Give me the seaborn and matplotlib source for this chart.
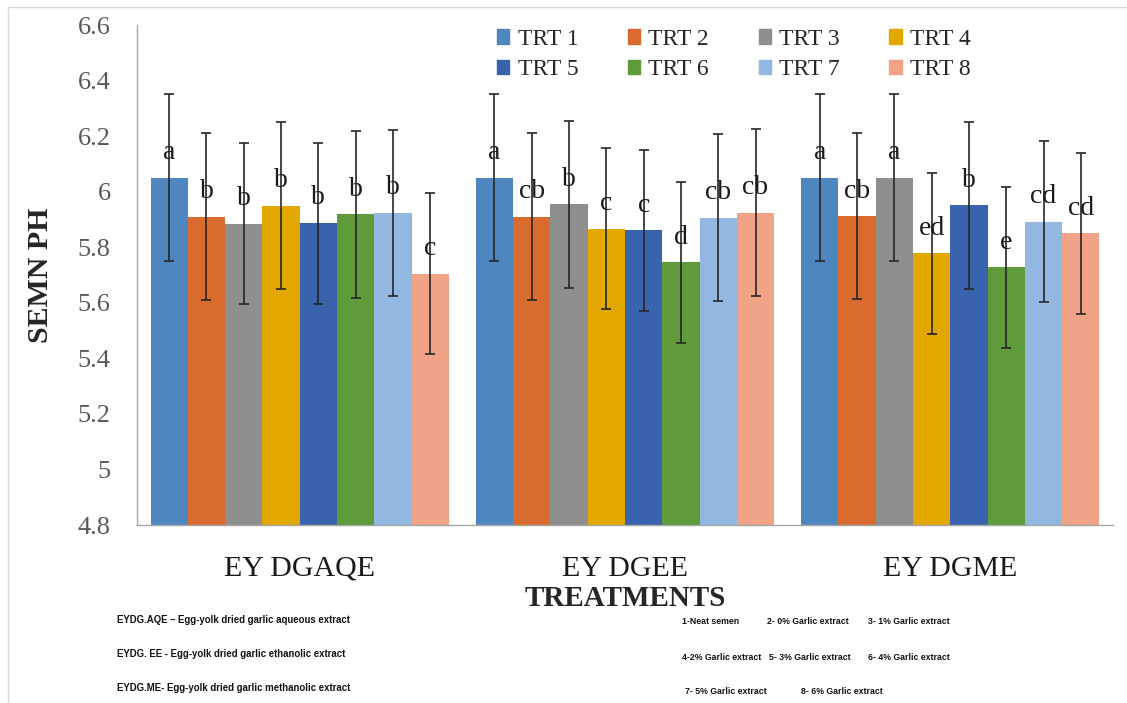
import matplotlib
matplotlib.use("Agg")
import matplotlib.pyplot as plt
from matplotlib.lines import Line2D
import seaborn as sns
import pandas as pd

# ---- data -------------------------------------------------------------
groups = ["EY DGAQE", "EY DGEE", "EY DGME"]
treatments = ["TRT 1", "TRT 2", "TRT 3", "TRT 4", "TRT 5", "TRT 6", "TRT 7", "TRT 8"]

ph_aqe = [6.05, 5.91, 5.885, 5.95, 5.887, 5.918, 5.923, 5.705]
ph_ee = [6.05, 5.91, 5.955, 5.866, 5.861, 5.746, 5.906, 5.924]
ph_me = [6.05, 5.912, 6.05, 5.778, 5.951, 5.728, 5.892, 5.85]

err_aqe = [0.30, 0.30, 0.29, 0.30, 0.29, 0.30, 0.30, 0.29]
err_ee = [0.30, 0.30, 0.30, 0.29, 0.29, 0.29, 0.30, 0.30]
err_me = [0.30, 0.30, 0.30, 0.29, 0.30, 0.29, 0.29, 0.29]

letters_aqe = ["a", "b", "b", "b", "b", "b", "b", "c"]
letters_ee = ["a", "cb", "b", "c", "c", "d", "cb", "cb"]
letters_me = ["a", "cb", "a", "ed", "b", "e", "cd", "cd"]

yticks = [4.8, 5.0, 5.2, 5.4, 5.6, 5.8, 6.0, 6.2, 6.4, 6.6]
ytick_labels = ["4.8", "5", "5.2", "5.4", "5.6", "5.8", "6", "6.2", "6.4", "6.6"]

colors = ["#4E86BF", "#D86B2D", "#8E8E8E", "#E2A800",
          "#3A63AD", "#5F9A3B", "#92B7E0", "#F0A386"]

abbrev_notes = [
    "EYDG.AQE \u2013 Egg-yolk dried garlic aqueous extract",
    "EYDG. EE - Egg-yolk dried garlic ethanolic extract",
    "EYDG.ME- Egg-yolk dried garlic methanolic extract",
]
trt_notes = [
    ("1-Neat semen", 682, 622), ("2- 0% Garlic extract", 767, 622),
    ("3- 1% Garlic extract", 868, 622),
    ("4-2% Garlic extract", 682, 657), ("5- 3% Garlic extract", 769, 657),
    ("6- 4% Garlic extract", 868, 657),
    ("7- 5% Garlic extract", 685, 692), ("8- 6% Garlic extract", 801, 692),
]

# ---- long table ---------------------------------------------------------
values = [ph_aqe, ph_ee, ph_me]
errors = [err_aqe, err_ee, err_me]
letters = [letters_aqe, letters_ee, letters_me]
rows = []
for g, vals in zip(groups, values):
    for t, v in zip(treatments, vals):
        rows.append({"group": g, "trt": t, "ph": v})
df = pd.DataFrame(rows)

# ---- figure ------------------------------------------------------------
sns.set_style("white")
plt.rcParams["font.family"] = ["Liberation Serif", "DejaVu Serif"]

W, H = 1127, 703
fig = plt.figure(figsize=(W / 100, H / 100), dpi=100)
ax = fig.add_axes([137 / W, 1 - 525 / H, (1113 - 137) / W, (525 - 25) / H])

sns.barplot(data=df, x="group", y="ph", hue="trt", order=groups,
            hue_order=treatments, palette=colors, saturation=1,
            width=0.917, gap=0, errorbar=None, ax=ax, linewidth=0)
ax.set_xlim(-0.5, 2.5)

# error bars and significance letters on every bar
bar_containers = list(ax.containers)
for ti, cont in enumerate(bar_containers):
    for gi, bar in enumerate(cont.patches):
        xc = bar.get_x() + bar.get_width() / 2
        v = values[gi][ti]
        ax.errorbar(xc, v, yerr=errors[gi][ti], fmt="none", ecolor="#262626",
                    elinewidth=1.2, capsize=3.8, capthick=1.2, zorder=4)
        ax.text(xc, v + 0.067, letters[gi][ti], ha="center", va="baseline",
                fontsize=20, color="#1a1a1a", zorder=5)

ax.set_ylim(4.8, 6.6)
ax.set_yticks(yticks)
ax.set_yticklabels(ytick_labels)
ax.tick_params(axis="y", length=0, pad=19, labelsize=19, labelcolor="#595959")
ax.tick_params(axis="x", length=0, pad=22, labelsize=21.5, labelcolor="#1a1a1a")

for side in ("top", "right"):
    ax.spines[side].set_visible(False)
for side in ("left", "bottom"):
    ax.spines[side].set_color("#A6A6A6")
    ax.spines[side].set_linewidth(1.0)

ax.set_xlabel("TREATMENTS", fontsize=21, fontweight="bold", va="center")
ax.xaxis.set_label_coords(0.5, (525 - 599) / 500)
ax.set_ylabel("SEMN PH", fontsize=21.5, fontweight="bold", va="center")
ax.yaxis.set_label_coords((41 - 137) / 976, 0.5)

# legend in two rows of four (matplotlib fills columns first)
if ax.get_legend() is not None:
    ax.get_legend().remove()
order = [0, 4, 1, 5, 2, 6, 3, 7]
handles = [plt.Rectangle((0, 0), 1, 1, color=colors[i]) for i in order]
labels = [treatments[i] for i in order]
fig.legend(handles, labels, loc="upper left",
           bbox_to_anchor=(497 / W, 1 - 29 / H), ncol=4, frameon=False,
           fontsize=17, handlelength=0.52, handleheight=0.56,
           handletextpad=0.35, columnspacing=2.1, labelspacing=0.4,
           borderpad=0, borderaxespad=0)

# footnotes
note_family = ["Liberation Sans Narrow", "Liberation Sans", "DejaVu Sans"]
for i, s in enumerate(abbrev_notes):
    fig.text(117 / W, 1 - (620 + 34 * i) / H, s, ha="left", va="center",
             family=note_family, fontweight="bold", fontsize=6.9, color="#111111")
for s, x, y in trt_notes:
    fig.text(x / W, 1 - y / H, s, ha="left", va="center",
             family=note_family, fontweight="bold", fontsize=6.3, color="#111111")

# light frame on the left and top edges
fig.add_artist(Line2D([8 / W, 8 / W], [0, 1 - 7 / H], color="#D9D9D9",
                      lw=1, transform=fig.transFigure))
fig.add_artist(Line2D([8 / W, 1], [1 - 7 / H, 1 - 7 / H], color="#D9D9D9",
                      lw=1, transform=fig.transFigure))

fig.savefig("out.png", dpi=100)
